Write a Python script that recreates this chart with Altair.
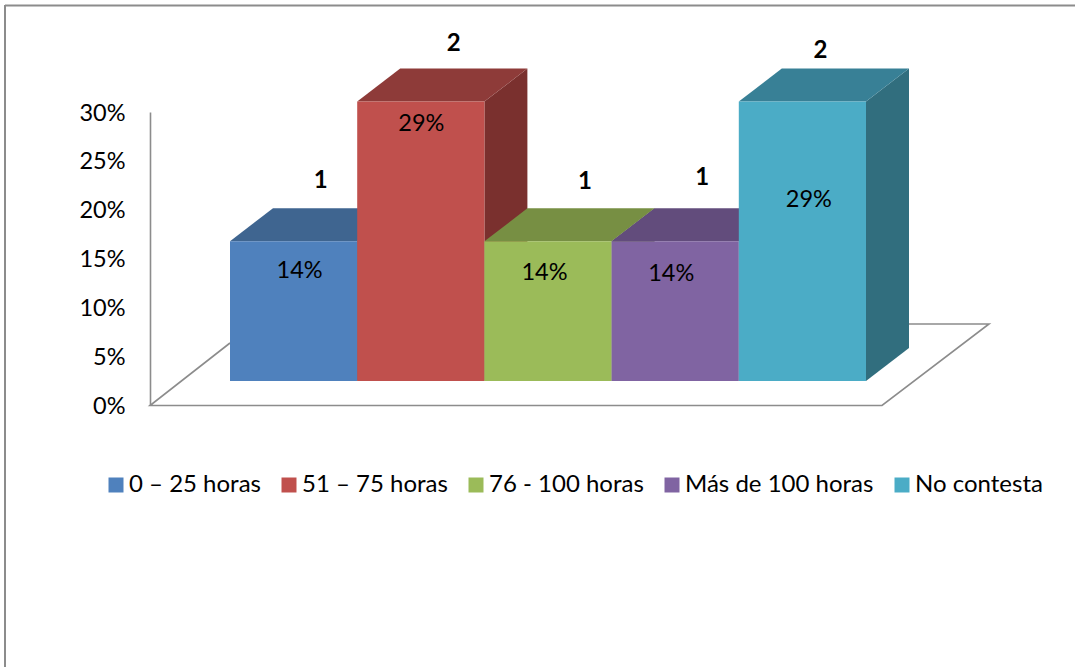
import altair as alt
import pandas as pd

# Survey responses by hours band
CATEGORIES = ["0 – 25 horas", "51 – 75 horas", "76 - 100 horas", "Más de 100 horas", "No contesta"]
COUNTS = [1, 2, 1, 1, 2]
AXIS_TICKS = [0, 0.05, 0.10, 0.15, 0.20, 0.25, 0.30]

# Face colours of each column
FRONT = ["#4F81BD", "#C0504D", "#9BBB59", "#8064A2", "#4BACC6"]
TOP = ["#3F6590", "#8E3B39", "#778F43", "#624C7C", "#388096"]
SIDE = ["#355578", "#7A302E", "#64793A", "#533F69", "#316E7E"]

# Label nudges in pixels, relative to the centre of each column's top edge
SHARE_NUDGE = [(6, 29.5), (0.5, 22.5), (-3.5, 31.5), (-4, 32.5), (6.5, 98.5)]
COUNT_NUDGE = [(27, -60.5), (33, -57.7), (37, -59.5), (27, -63.5), (18, -50.7)]

W, H = 1075, 667
FONT = "Lato"
LINE = "#8C8C8C"

# Data units: one column is one x unit, y is the share of responses
PX_PER_UNIT = 127.2
PX_PER_SHARE = 978.0
X0_PX, Y0_PX = 230.0, 381.0
DEPTH_X = 43 / PX_PER_UNIT
DEPTH_Y = 33 / PX_PER_SHARE

x_scale = alt.Scale(domain=[-X0_PX / PX_PER_UNIT, (W - X0_PX) / PX_PER_UNIT], nice=False, zero=False)
y_scale = alt.Scale(domain=[(Y0_PX - H) / PX_PER_SHARE, Y0_PX / PX_PER_SHARE], nice=False, zero=False)
color_scale = alt.Scale(domain=CATEGORIES, range=FRONT)


def X(field):
    return alt.X(f"{field}:Q", scale=x_scale, axis=None)


def Y(field):
    return alt.Y(f"{field}:Q", scale=y_scale, axis=None)


total = sum(COUNTS)
layers = []

# The floor sits under the columns
FLOOR_LEFT = (150 - X0_PX) / PX_PER_UNIT
FLOOR_FRONT_RIGHT = (882 - X0_PX) / PX_PER_UNIT
FLOOR_BACK_RIGHT = (989 - X0_PX) / PX_PER_UNIT
FLOOR_BACK_LEFT = (230 - X0_PX) / PX_PER_UNIT
FLOOR_BACK_MID = (909 - X0_PX) / PX_PER_UNIT
FLOOR_FRONT = (Y0_PX - 405.5) / PX_PER_SHARE
FLOOR_BACK = (Y0_PX - 324) / PX_PER_SHARE
floor = pd.DataFrame({
    "x": [FLOOR_BACK_LEFT, FLOOR_LEFT, FLOOR_FRONT_RIGHT, FLOOR_BACK_RIGHT, FLOOR_BACK_MID],
    "y": [(Y0_PX - 343) / PX_PER_SHARE, FLOOR_FRONT, FLOOR_FRONT, FLOOR_BACK, FLOOR_BACK],
    "o": [0, 1, 2, 3, 4],
})
layers.append(
    alt.Chart(floor).mark_line(color=LINE, strokeWidth=1.6).encode(x=X("x"), y=Y("y"), order="o:Q")
)

# Columns go left to right so each one hides what lies behind it
for i, (cat, n) in enumerate(zip(CATEGORIES, COUNTS)):
    share = n / total
    side = pd.DataFrame({
        "x": [i + 1, i + 1 + DEPTH_X],
        "low": [0, DEPTH_Y],
        "high": [share, share + DEPTH_Y],
    })
    top = pd.DataFrame({
        "y": [share, share + DEPTH_Y],
        "left": [i, i + DEPTH_X],
        "right": [i + 1, i + 1 + DEPTH_X],
    })
    front = pd.DataFrame({"cat": [cat], "left": [i], "right": [i + 1], "share": [share], "base": [0]})

    layers.append(
        alt.Chart(side).mark_area(color=SIDE[i], orient="vertical").encode(
            x=X("x"), y=Y("low"), y2="high:Q"
        )
    )
    layers.append(
        alt.Chart(top).mark_area(color=TOP[i], orient="horizontal").encode(
            y=Y("y"), x=X("left"), x2="right:Q"
        )
    )
    layers.append(
        alt.Chart(front).mark_bar(cornerRadius=0).encode(
            x=X("left"),
            x2="right:Q",
            y=Y("base"),
            y2="share:Q",
            color=alt.Color(
                "cat:N",
                scale=color_scale,
                sort=CATEGORIES,
                legend=alt.Legend(
                    title=None,
                    orient="none",
                    legendX=104,
                    legendY=473,
                    direction="horizontal",
                    columns=5,
                    gridAlign="none",
                    columnPadding=16,
                    symbolType="square",
                    symbolSize=225,
                    symbolStrokeWidth=0,
                    labelFont=FONT,
                    labelFontSize=24,
                    labelColor="#000000",
                    labelOffset=1,
                    labelLimit=300,
                ),
            ),
        )
    )

# Percentage and count labels on top of everything
for i, (cat, n) in enumerate(zip(CATEGORIES, COUNTS)):
    label = pd.DataFrame({"x": [i + 0.5], "share": [n / total], "count": [n]})
    sdx, sdy = SHARE_NUDGE[i]
    cdx, cdy = COUNT_NUDGE[i]
    layers.append(
        alt.Chart(label).mark_text(font=FONT, fontSize=23.5, color="#000000", dx=sdx, dy=sdy, baseline="middle").encode(
            x=X("x"), y=Y("share"), text=alt.Text("share:Q", format=".0%")
        )
    )
    layers.append(
        alt.Chart(label).mark_text(font=FONT, fontSize=24, fontWeight="bold", color="#000000", dx=cdx, dy=cdy, baseline="middle").encode(
            x=X("x"), y=Y("share"), text=alt.Text("count:Q", format="d")
        )
    )

# Page frame: top and left edges only
frame_top = alt.Chart(pd.DataFrame({"a": [0]})).mark_rule(color=LINE, strokeWidth=2).encode(
    x=alt.value(5), x2=alt.value(W), y=alt.value(5.5)
)
frame_left = alt.Chart(pd.DataFrame({"a": [0]})).mark_rule(color=LINE, strokeWidth=2).encode(
    x=alt.value(5), y=alt.value(5), y2=alt.value(H)
)
layers += [frame_top, frame_left]

# Percentage axis on the back wall, with its own scale
axis_layer = alt.Chart(pd.DataFrame({"tick": AXIS_TICKS})).mark_point(opacity=0).encode(
    x=alt.value(150),
    y=alt.Y(
        "tick:Q",
        scale=alt.Scale(domain=[0, 0.30], range=[405.5, 112], nice=False, zero=False),
        axis=alt.Axis(
            orient="left",
            offset=-150,
            values=AXIS_TICKS,
            format=".0%",
            title=None,
            grid=False,
            ticks=False,
            domainColor=LINE,
            domainWidth=1.6,
            labelFont=FONT,
            labelFontSize=23.5,
            labelColor="#000000",
            labelPadding=25,
            labelOffset=1,
        ),
    ),
)

chart = (
    alt.layer(alt.layer(*layers), axis_layer)
    .resolve_scale(y="independent")
    .properties(width=W, height=H, padding=0, autosize=alt.AutoSizeParams(type="none"), background="#FFFFFF")
    .configure_view(stroke=None)
)

chart.save("out.html", embed_options={"renderer": "svg", "actions": False})
